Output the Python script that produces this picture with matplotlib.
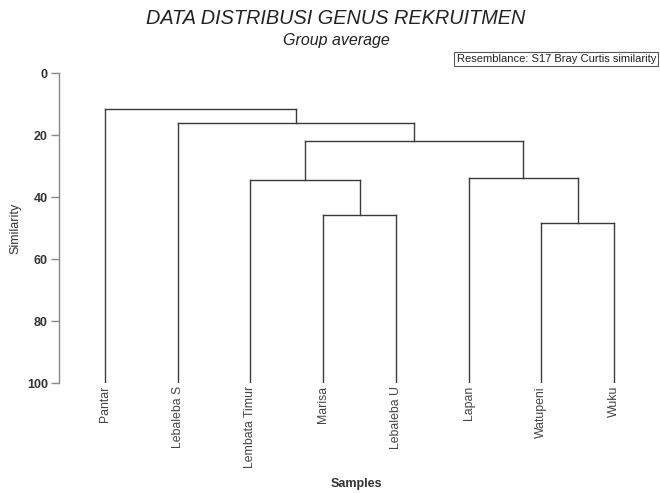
import matplotlib.pyplot as plt

plt.rcParams['font.family'] = ['Liberation Sans', 'DejaVu Sans']

# Sampel (urutan daun dendrogram)
samples = ['Pantar', 'Lebaleba S', 'Lembata Timur', 'Marisa', 'Lebaleba U',
           'Lapan', 'Watupeni', 'Wuku']

# Penggabungan cluster: (kiri, kanan) -> id baru mulai dari 8
merge_left = [6, 3, 2, 5, 10, 1, 0]
merge_right = [7, 4, 9, 8, 11, 12, 13]
merge_sim = [48.5, 45.9, 34.5, 34.0, 21.9, 16.1, 11.6]

fig = plt.figure(figsize=(6.6, 4.93), dpi=100)
ax = fig.add_axes([59 / 660, 1 - 383 / 493, (640 - 59) / 660, (383 - 73) / 493])

# posisi dan tinggi tiap node
pos = {i: float(i) for i in range(len(samples))}
height = {i: 100.0 for i in range(len(samples))}

line_col = '#3a3a3a'
for k, (a, b, s) in enumerate(zip(merge_left, merge_right, merge_sim)):
    node = len(samples) + k
    xa, xb = pos[a], pos[b]
    ax.plot([xa, xa], [height[a], s], color=line_col, lw=1)
    ax.plot([xb, xb], [height[b], s], color=line_col, lw=1)
    ax.plot([xa, xb], [s, s], color=line_col, lw=1)
    pos[node] = (xa + xb) / 2
    height[node] = s

ax.set_ylim(100, 0)
ax.set_xlim(-(105 - 59) / 72.7, 7 + (640 - 614) / 72.7)
ax.set_yticks([0, 20, 40, 60, 80, 100])
ax.tick_params(axis='y', direction='out', length=6, width=1, color='#888888',
               labelsize=9, pad=2)
for t in ax.get_yticklabels():
    t.set_fontweight('bold')
    t.set_color('#333333')
ax.set_xticks([])
for side in ['top', 'right', 'bottom']:
    ax.spines[side].set_visible(False)
ax.spines['left'].set_color('#888888')
ax.spines['left'].set_linewidth(1)

# label sampel di bawah tiap daun
for i, name in enumerate(samples):
    ax.text(i, 101.0, name, rotation=90, ha='center', va='top', fontsize=8.8,
            color='#444444')

fig.text(15 / 660, 1 - 228 / 493, 'Similarity', rotation=90, ha='center',
         va='center', fontsize=9, color='#333333')
fig.text(356 / 660, 1 - 484 / 493, 'Samples', ha='center', va='center',
         fontsize=9, fontweight='bold', color='#333333')

fig.text(336 / 660, 1 - 18 / 493, 'DATA DISTRIBUSI GENUS REKRUITMEN',
         ha='center', va='center', fontsize=14.3, style='italic', color='#222222')
fig.text(336 / 660, 1 - 40 / 493, 'Group average', ha='center', va='center',
         fontsize=11.5, style='italic', color='#222222')
fig.text(656 / 660, 1 - 59 / 493, 'Resemblance: S17 Bray Curtis similarity',
         ha='right', va='center', fontsize=8, color='#222222',
         bbox=dict(boxstyle='square,pad=0.2', fc='white', ec='#555555', lw=0.8))

fig.savefig('out.png', dpi=100)
